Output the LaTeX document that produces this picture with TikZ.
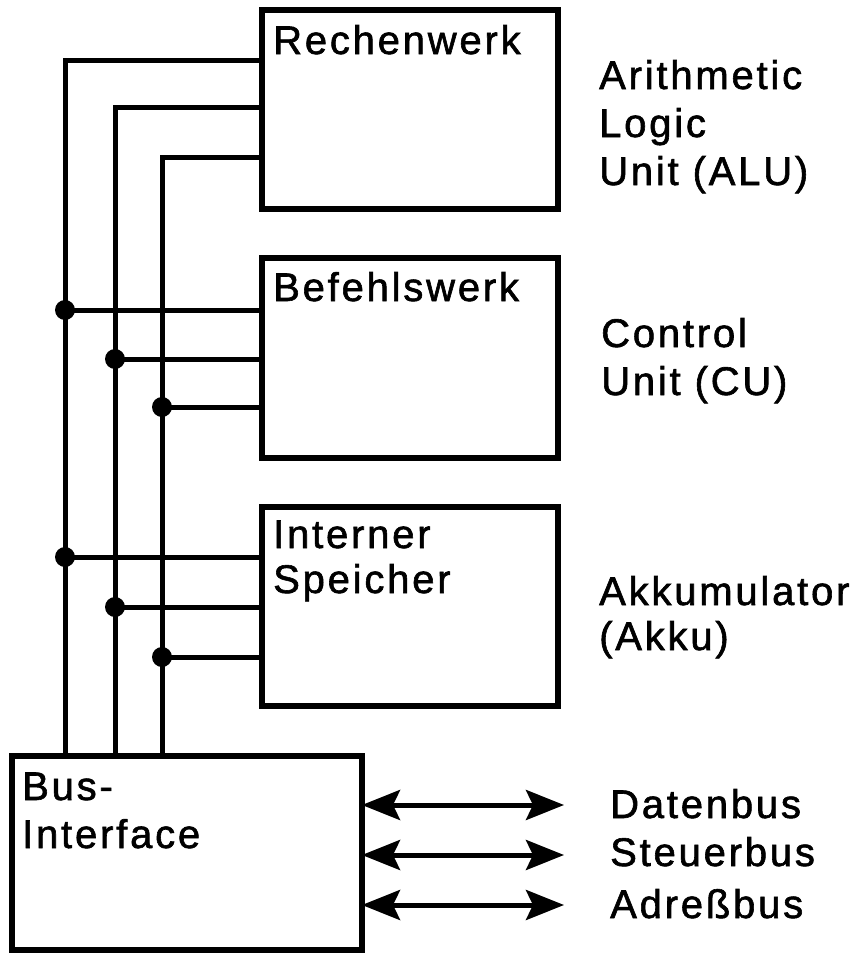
\documentclass[tikz,border=0pt]{standalone}
\usepackage{fontspec}
\setmainfont{Liberation Sans}[LetterSpace=7,FakeBold=1.5]
\usetikzlibrary{arrows.meta,calc}
\begin{document}
\begin{tikzpicture}[x=1pt,y=-1pt,
  box/.style={draw=black, line width=5.5pt, rectangle, inner sep=0pt, outer sep=0pt},
  wire/.style={draw=black, line width=5pt},
  jdot/.style={circle, fill=black, minimum size=20pt, inner sep=0pt, outer sep=0pt},
  lbl/.style={font=\fontsize{40}{48}\selectfont, inner sep=0pt, anchor=base west},
  busarrow/.style={draw=black, line width=5pt,
    {Stealth[length=38pt,width=30pt,inset=7pt]}-{Stealth[length=38pt,width=30pt,inset=7pt]}}
]
\useasboundingbox (0,0) rectangle (858,953);
% boxes
\node[box, minimum width=296pt, minimum height=199pt] (alu) at (410,109.5) {};
\node[box, minimum width=296pt, minimum height=200pt] (cu) at (410,358) {};
\node[box, minimum width=296pt, minimum height=199pt] (mem) at (410,606.5) {};
\node[box, minimum width=350pt, minimum height=194pt] (bus) at (187,853) {};
% box texts
\node[lbl] (talu) at (273,54) {Rechenwerk};
\node[lbl] (tcu) at (273,301) {Befehlswerk};
\node[lbl] (tmem1) at (273,548) {Interner};
\node[lbl] (tmem2) at (273,593) {Speicher};
\node[lbl] (tbus1) at (22,800) {Bus-};
\node[lbl] (tbus2) at (22,848) {Interface};
% right labels
\node[lbl] (r1) at (599,89) {Arithmetic};
\node[lbl] (r2) at (599,137) {Logic};
\node[lbl] (r3) at (599,185) {Unit (ALU)};
\node[lbl] (r4) at (601,347) {Control};
\node[lbl] (r5) at (601,395) {Unit (CU)};
\node[lbl] (r6) at (599,605) {Akkumulator};
\node[lbl] (r7) at (599,650) {(Akku)};
\node[lbl] (r8) at (610,818) {Datenbus};
\node[lbl] (r9) at (610,866) {Steuerbus};
\node[lbl] (r10) at (610,918) {Adreßbus};
% corner points of the three bus lines
\coordinate (c1) at (65,60);
\coordinate (c2) at (115,107);
\coordinate (c3) at (162,157);
\draw[wire] (c1 |- bus.north) -- (c1) -- (c1 -| alu.west);
\draw[wire] (c2 |- bus.north) -- (c2) -- (c2 -| alu.west);
\draw[wire] (c3 |- bus.north) -- (c3) -- (c3 -| alu.west);
% junctions
\node[jdot] (d1) at (65,310) {};
\node[jdot] (d2) at (115,359) {};
\node[jdot] (d3) at (162,407) {};
\node[jdot] (d4) at (65,557) {};
\node[jdot] (d5) at (115,607) {};
\node[jdot] (d6) at (162,657) {};
\draw[wire] (d1.center) -- (d1 -| cu.west);
\draw[wire] (d2.center) -- (d2 -| cu.west);
\draw[wire] (d3.center) -- (d3 -| cu.west);
\draw[wire] (d4.center) -- (d4 -| mem.west);
\draw[wire] (d5.center) -- (d5 -| mem.west);
\draw[wire] (d6.center) -- (d6 -| mem.west);
% bus arrows
\coordinate (a1) at (564,805);
\coordinate (a2) at (564,855);
\coordinate (a3) at (564,905);
\draw[busarrow] (a1 -| bus.east) -- (a1);
\draw[busarrow] (a2 -| bus.east) -- (a2);
\draw[busarrow] (a3 -| bus.east) -- (a3);
\end{tikzpicture}
\end{document}
